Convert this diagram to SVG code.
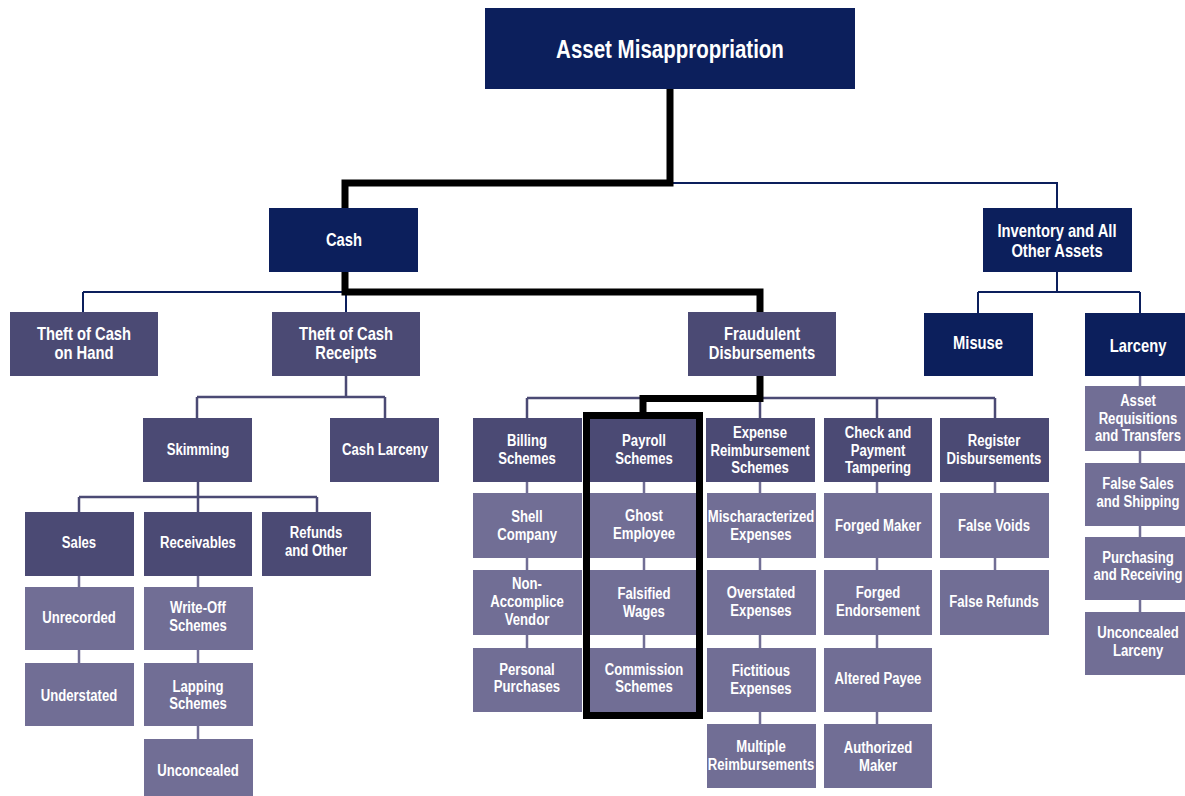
<svg xmlns="http://www.w3.org/2000/svg" width="1185" height="796" viewBox="0 0 1185 796">
<style>
.n{fill:#0c1f5c}
.s{fill:#4b4a74}
.l{fill:#716e95}
text{font-family:'Liberation Sans',Arial,sans-serif;font-weight:bold;fill:#ffffff;text-anchor:middle;dominant-baseline:central;transform-box:fill-box;transform-origin:center;transform:scaleX(0.82)}
.t1{font-size:25px}
.t2{font-size:18px}
.t3{font-size:16px}
.cn{stroke:#0c1f5c;stroke-width:2;fill:none}
.cs{stroke:#4b4a74;stroke-width:2.5;fill:none}
.cl{stroke:#716e95;stroke-width:2.5;fill:none}
.ck{stroke:#000000;stroke-width:7;fill:none}
</style>
<rect width="1185" height="796" fill="#ffffff"/>
<g id="connectors">
<path class="cn" d="M670,183 H1057 V208 M1057,272 V292 M978,292 H1140 M978,292 V313 M1140,292 V313 M83,292 H346 M83,292 V312 M346,292 V312"/>
<path class="cs" d="M346,376 V397 M197,397 H385 M197,397 V418 M385,397 V418 M198,482 V497 M79,497 H317 M79,497 V512 M198,497 V512 M317,497 V512 M527,398 H995 M527,398 V418 M760,398 V418 M877,398 V418 M995,398 V418"/>
<path class="cl" d="M79,576 V587 M79,650 V663 M198,576 V587 M198,650 V663 M198,726 V739 M527,482 V493 M527,558 V570 M527,635 V648 M644,482 V493 M644,558 V570 M644,635 V648 M760,482 V493 M760,558 V570 M760,635 V648 M760,712 V724 M877,482 V493 M877,558 V570 M877,635 V648 M877,712 V724 M995,482 V493 M995,558 V570 M1140,376 V397 M1140,451 V463 M1140,526 V537 M1140,600 V612"/>
</g>
<g id="n-root"><rect class="n" x="485" y="8" width="370" height="81"/><text class="t1" x="670" y="49">Asset Misappropriation</text></g>
<g id="n-cash"><rect class="n" x="269" y="208" width="149" height="64"/><text class="t2" x="344" y="239">Cash</text></g>
<g id="n-inventory"><rect class="n" x="983" y="208" width="149" height="64"/><text class="t2" x="1057" y="230">Inventory and All</text><text class="t2" x="1057" y="250">Other Assets</text></g>
<g id="n-toch"><rect class="s" x="10" y="312" width="148" height="64"/><text class="t2" x="84" y="333">Theft of Cash</text><text class="t2" x="84" y="352">on Hand</text></g>
<g id="n-tocr"><rect class="s" x="272" y="312" width="148" height="64"/><text class="t2" x="346" y="333">Theft of Cash</text><text class="t2" x="346" y="352">Receipts</text></g>
<g id="n-fraud"><rect class="s" x="688" y="312" width="148" height="64"/><text class="t2" x="762" y="333">Fraudulent</text><text class="t2" x="762" y="352">Disbursements</text></g>
<g id="n-misuse"><rect class="n" x="924" y="313" width="109" height="63"/><text class="t2" x="978" y="342">Misuse</text></g>
<g id="n-larceny"><rect class="n" x="1085" y="313" width="110" height="63"/><text class="t2" x="1138" y="345">Larceny</text></g>
<g id="n-skimming"><rect class="s" x="143" y="418" width="109" height="64"/><text class="t3" x="198" y="450">Skimming</text></g>
<g id="n-cashlarceny"><rect class="s" x="330" y="418" width="109" height="64"/><text class="t3" x="385" y="450">Cash Larceny</text></g>
<g id="n-sales"><rect class="s" x="25" y="512" width="109" height="64"/><text class="t3" x="79" y="543">Sales</text></g>
<g id="n-receivables"><rect class="s" x="144" y="512" width="108" height="64"/><text class="t3" x="198" y="543">Receivables</text></g>
<g id="n-refunds"><rect class="s" x="262" y="512" width="109" height="64"/><text class="t3" x="316" y="533">Refunds</text><text class="t3" x="316" y="551">and Other</text></g>
<g id="n-unrecorded"><rect class="l" x="25" y="587" width="109" height="63"/><text class="t3" x="79" y="618">Unrecorded</text></g>
<g id="n-understated"><rect class="l" x="25" y="663" width="109" height="63"/><text class="t3" x="79" y="696">Understated</text></g>
<g id="n-writeoff"><rect class="l" x="144" y="587" width="109" height="63"/><text class="t3" x="198" y="608">Write-Off</text><text class="t3" x="198" y="626">Schemes</text></g>
<g id="n-lapping"><rect class="l" x="144" y="663" width="109" height="63"/><text class="t3" x="198" y="687">Lapping</text><text class="t3" x="198" y="704">Schemes</text></g>
<g id="n-unconcealed"><rect class="l" x="144" y="739" width="109" height="60"/><text class="t3" x="198" y="771">Unconcealed</text></g>
<g id="n-billing"><rect class="s" x="473" y="418" width="109" height="64"/><text class="t3" x="527" y="441">Billing</text><text class="t3" x="527" y="459">Schemes</text></g>
<g id="n-shell"><rect class="l" x="473" y="493" width="109" height="65"/><text class="t3" x="527" y="517">Shell</text><text class="t3" x="527" y="535">Company</text></g>
<g id="n-nonaccomplice"><rect class="l" x="473" y="570" width="109" height="65"/><text class="t3" x="527" y="584">Non-</text><text class="t3" x="527" y="602">Accomplice</text><text class="t3" x="527" y="620">Vendor</text></g>
<g id="n-personal"><rect class="l" x="473" y="648" width="109" height="64"/><text class="t3" x="527" y="670">Personal</text><text class="t3" x="527" y="687">Purchases</text></g>
<g id="n-payroll"><rect class="s" x="590" y="418" width="109" height="64"/><text class="t3" x="644" y="441">Payroll</text><text class="t3" x="644" y="459">Schemes</text></g>
<g id="n-ghost"><rect class="l" x="590" y="493" width="109" height="65"/><text class="t3" x="644" y="516">Ghost</text><text class="t3" x="644" y="534">Employee</text></g>
<g id="n-falsified"><rect class="l" x="590" y="570" width="109" height="65"/><text class="t3" x="644" y="594">Falsified</text><text class="t3" x="644" y="612">Wages</text></g>
<g id="n-commission"><rect class="l" x="590" y="648" width="109" height="64"/><text class="t3" x="644" y="670">Commission</text><text class="t3" x="644" y="687">Schemes</text></g>
<g id="n-expense"><rect class="s" x="706" y="418" width="109" height="64"/><text class="t3" x="760" y="433">Expense</text><text class="t3" x="760" y="451">Reimbursement</text><text class="t3" x="760" y="468">Schemes</text></g>
<g id="n-mischar"><rect class="l" x="707" y="493" width="109" height="65"/><text class="t3" x="761" y="517">Mischaracterized</text><text class="t3" x="761" y="535">Expenses</text></g>
<g id="n-overstated"><rect class="l" x="707" y="570" width="109" height="65"/><text class="t3" x="761" y="593">Overstated</text><text class="t3" x="761" y="611">Expenses</text></g>
<g id="n-fictitious"><rect class="l" x="707" y="648" width="109" height="64"/><text class="t3" x="761" y="671">Fictitious</text><text class="t3" x="761" y="689">Expenses</text></g>
<g id="n-multiple"><rect class="l" x="707" y="724" width="109" height="64"/><text class="t3" x="761" y="747">Multiple</text><text class="t3" x="761" y="765">Reimbursements</text></g>
<g id="n-check"><rect class="s" x="824" y="418" width="108" height="64"/><text class="t3" x="878" y="433">Check and</text><text class="t3" x="878" y="451">Payment</text><text class="t3" x="878" y="468">Tampering</text></g>
<g id="n-forgedmaker"><rect class="l" x="824" y="493" width="108" height="65"/><text class="t3" x="878" y="526">Forged Maker</text></g>
<g id="n-forgedend"><rect class="l" x="824" y="570" width="108" height="65"/><text class="t3" x="878" y="593">Forged</text><text class="t3" x="878" y="611">Endorsement</text></g>
<g id="n-altered"><rect class="l" x="824" y="648" width="108" height="64"/><text class="t3" x="878" y="679">Altered Payee</text></g>
<g id="n-authorized"><rect class="l" x="824" y="724" width="108" height="64"/><text class="t3" x="878" y="748">Authorized</text><text class="t3" x="878" y="766">Maker</text></g>
<g id="n-register"><rect class="s" x="940" y="418" width="109" height="64"/><text class="t3" x="994" y="441">Register</text><text class="t3" x="994" y="459">Disbursements</text></g>
<g id="n-voids"><rect class="l" x="940" y="493" width="109" height="65"/><text class="t3" x="994" y="526">False Voids</text></g>
<g id="n-refundsfalse"><rect class="l" x="940" y="570" width="109" height="65"/><text class="t3" x="994" y="602">False Refunds</text></g>
<g id="n-assetreq"><rect class="l" x="1085" y="386" width="110" height="65"/><text class="t3" x="1138" y="401">Asset</text><text class="t3" x="1138" y="419">Requisitions</text><text class="t3" x="1138" y="436">and Transfers</text></g>
<g id="n-falsesales"><rect class="l" x="1085" y="463" width="110" height="63"/><text class="t3" x="1138" y="484">False Sales</text><text class="t3" x="1138" y="502">and Shipping</text></g>
<g id="n-purchasing"><rect class="l" x="1085" y="537" width="110" height="63"/><text class="t3" x="1138" y="558">Purchasing</text><text class="t3" x="1138" y="575">and Receiving</text></g>
<g id="n-unconcealedlarceny"><rect class="l" x="1085" y="612" width="110" height="63"/><text class="t3" x="1138" y="633">Unconcealed</text><text class="t3" x="1138" y="651">Larceny</text></g>
<g id="highlight">
<path class="ck" d="M670,89 V183 H345 V208 M345,272 V292 H760 V312 M760,376 V398.5 H643 V412"/>
<rect class="ck" x="586.5" y="415.5" width="113" height="300"/>
</g>
</svg>
